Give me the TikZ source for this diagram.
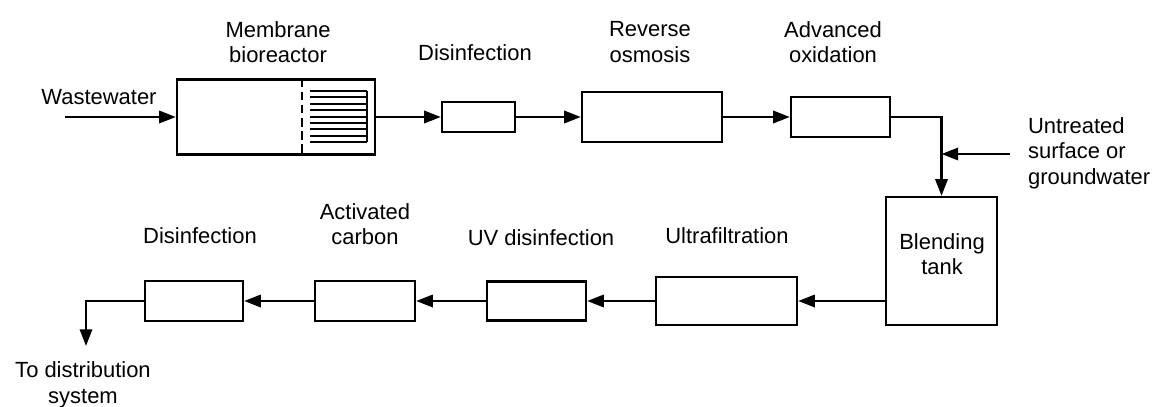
\documentclass[tikz,border=0pt]{standalone}
\usepackage{fontspec}
\setmainfont{Liberation Sans}
\usetikzlibrary{arrows.meta, positioning}

\begin{document}
\begin{tikzpicture}[
    x=0.02cm, y=-0.02cm,
    font=\fontsize{12.5}{14.5}\selectfont,
    unit/.style={rectangle, draw=black, line width=1.35pt, inner sep=0pt},
    lbl/.style={align=center, inner sep=1pt},
    arrow/.style={line width=1.35pt, -{Triangle[length=9.5pt, width=7pt]}},
    pipe/.style={line width=1.35pt}
    ]
    \useasboundingbox (0,0) rectangle (1162,406);

    % top row units
    \node (mbr)  [unit, minimum width=3.96cm, minimum height=1.5cm] at (276,117) {};
    \node (dis1) [unit, minimum width=1.46cm, minimum height=0.6cm] at (478.5,117) {};
    \node (ro)   [unit, minimum width=2.8cm,  minimum height=1.0cm] at (652,117) {};
    \node (aox)  [unit, minimum width=1.98cm, minimum height=0.8cm] at (840.5,117) {};

    % blending tank
    \node (tank) [unit, minimum width=2.22cm, minimum height=2.56cm] at (941.5,261) {};

    % bottom row units
    \node (uf)   [unit, minimum width=2.82cm, minimum height=0.96cm] at (726.5,301) {};
    \node (uv)   [unit, minimum width=1.98cm, minimum height=0.78cm] at (536.5,301) {};
    \node (ac)   [unit, minimum width=2.0cm,  minimum height=0.8cm]  at (365,301) {};
    \node (dis2) [unit, minimum width=1.96cm, minimum height=0.8cm]  at (194,301) {};

    % labels
    \node (wwlbl)   [lbl] at (99,97)   {Wastewater};
    \node (mbrlbl)  [lbl] at (278,42)  {Membrane\\bioreactor};
    \node (dis1lbl) [lbl] at (475,53)  {Disinfection};
    \node (rolbl)   [lbl] at (650,42)  {Reverse\\osmosis};
    \node (aoxlbl)  [lbl] at (833,42)  {Advanced\\oxidation};
    \node (srclbl)  [lbl, align=left, anchor=west] at (1026,153) {Untreated\\surface or\\groundwater};
    \node (tanklbl) [lbl] at (942,254) {Blending\\tank};
    \node (uflbl)   [lbl] at (727,236) {Ultrafiltration};
    \node (uvlbl)   [lbl] at (541,238) {UV disinfection};
    \node (aclbl)   [lbl] at (365,224) {Activated\\carbon};
    \node (dis2lbl) [lbl] at (200,236) {Disinfection};
    \node (outlbl)  [lbl] at (83,385)  {To distribution\\system};

    % free ends
    \coordinate (wsrc) at (65,117);
    \coordinate (usrc) at (1010,154);
    \coordinate (dest) at (86,346);

    % membrane module inside the bioreactor
    \draw [line width=1.2pt, dash pattern=on 5pt off 2.5pt] (mbr.north west -| 302,0) -- (mbr.south west -| 302,0);
    \foreach \k in {0,...,8}
        \draw [line width=1.2pt] (310,{91+6.4*\k}) -- (367,{91+6.4*\k});
    \draw [line width=1.2pt] (367,91) -- (367,142.2);

    % top row
    \draw [arrow] (wsrc) -- (mbr.west);
    \draw [arrow] (mbr.east) -- (dis1.west);
    \draw [arrow] (dis1.east) -- (ro.west);
    \draw [arrow] (ro.east) -- (aox.west);
    \draw [arrow] (aox.east) -| (tank.north);
    \draw [arrow] (usrc) -- (usrc -| tank.north);

    % bottom row
    \draw [arrow] (tank.west |- uf.east) -- (uf.east);
    \draw [arrow] (uf.west) -- (uv.east);
    \draw [arrow] (uv.west) -- (ac.east);
    \draw [arrow] (ac.west) -- (dis2.east);
    \draw [arrow] (dis2.west) -| (dest);

\end{tikzpicture}
\end{document}
